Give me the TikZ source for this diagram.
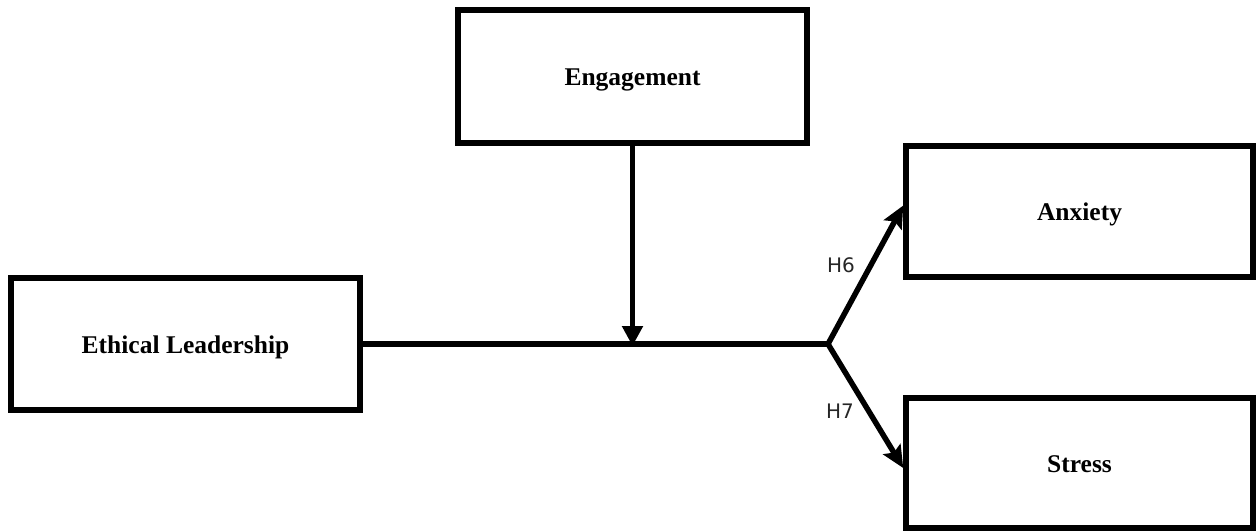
\documentclass[tikz,border=0pt]{standalone}
\usepackage{fontspec}
\setmainfont{Liberation Serif}
\newfontfamily\labfont{DejaVu Sans}
\usetikzlibrary{arrows.meta,calc}
\begin{document}
\begin{tikzpicture}[x=1pt,y=-1pt,
  box/.style={draw=black,line width=5.5pt,fill=white,minimum width=349pt,minimum height=132pt,inner sep=0pt,text height=18pt,text depth=0pt,font=\fontsize{25.5}{30}\selectfont\bfseries},
  conn/.style={line width=5.5pt,draw=black},
  hyp/.style={font=\labfont\fontsize{20}{24}\selectfont,text=black!85,inner sep=0pt}]
\useasboundingbox (0,0) rectangle (1256,531);
\node[box] (EL) at (185.5,344) {Ethical Leadership};
\node[box,minimum height=133pt] (EN) at (632.5,76.5) {Engagement};
\node[box,minimum width=347pt,minimum height=131pt] (AX) at (1079.5,211.5) {Anxiety};
\node[box,minimum width=347pt,minimum height=130pt] (ST) at (1079.5,463) {Stress};
\coordinate (BR) at (828,344);
\coordinate (MID) at (EN.south |- BR);
\draw[conn] (EL.east) -- (BR);
\draw[conn,-{Triangle[length=20pt,width=20pt]}] (EN.south) -- ([yshift=-2pt]MID);
\draw[conn,-{Stealth[length=22pt,width=20pt,inset=4pt]}] (BR) -- ([yshift=6pt]AX.west);
\draw[conn,-{Stealth[length=22pt,width=20pt,inset=4pt]}] (BR) -- ([yshift=-5pt]ST.west);
\node[hyp] (H6) at (841,265) {H6};
\node[hyp] (H7) at (840,411) {H7};
\end{tikzpicture}
\end{document}
